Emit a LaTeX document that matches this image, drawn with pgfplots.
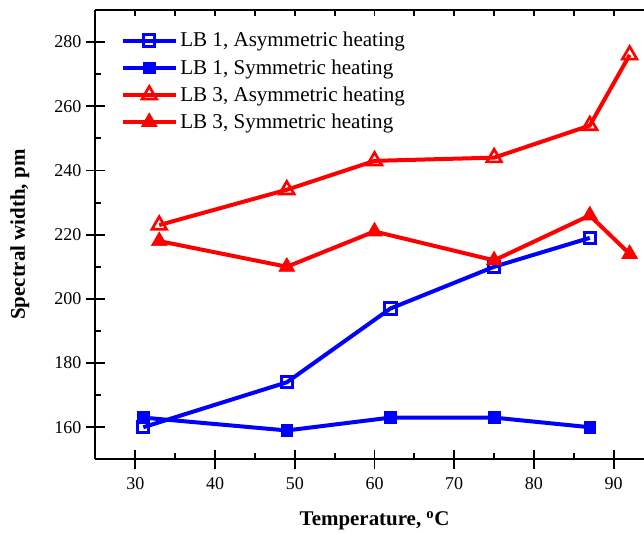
\documentclass[border=0pt]{standalone}
\usepackage{fontspec}
\setmainfont{Liberation Serif}
\usepackage{pgfplots}
\pgfplotsset{compat=1.18}
\begin{document}
\begin{tikzpicture}
\path[use as bounding box] (-71.6pt,-55.3pt) rectangle (411.4pt,344.5pt);
% overlay axis: frame top line and inward minor ticks
\begin{axis}[
  at={(0,0)}, anchor=south west,
  scale only axis, width=411.4pt, height=337pt,
  xmin=25, xmax=93.8, ymin=150, ymax=290,
  axis x line=box, axis y line=left,
  every non boxed x axis/.style={}, every non boxed y axis/.style={},
  axis line style={line width=1.5pt,-},
  tick align=inside, major tick length=4.5pt,
  tick style={line width=1.4pt, black},
  xtick={30,35,...,90}, ytick={160,170,...,280},
  xticklabels={}, yticklabels={},
]
\end{axis}
\begin{axis}[
  at={(0,0)}, anchor=south west,
  scale only axis, width=411.4pt, height=337pt,
  xmin=25, xmax=93.8, ymin=150, ymax=290,
  axis x line=bottom, axis y line=left,
  every non boxed x axis/.style={}, every non boxed y axis/.style={},
  axis line style={line width=1.5pt,-},
  tick align=center, major tick length=14pt,
  tick style={line width=1.4pt, black},
  xtick={30,40,...,90}, ytick={160,180,...,280},
  minor tick num=0,
  /pgf/number format/assume math mode=true,
  xticklabel={\pgfmathprintnumber[assume math mode=true]{\tick}},
  yticklabel={\pgfmathprintnumber[assume math mode=true]{\tick}},
  tick label style={font=\rmfamily\fontsize{13.5}{15}\selectfont},
  xticklabel style={yshift=-3pt},
  xlabel={\textbf{Temperature, \textsuperscript{o}C}},
  ylabel={\textbf{Spectral width, pm}},
  every axis x label/.style={at={(axis description cs:0.509,-0.136)}, anchor=center, font=\fontsize{15.7}{18}\selectfont},
  every axis y label/.style={at={(axis description cs:-0.138,0.5)}, anchor=center, rotate=90, font=\fontsize{15.7}{18}\selectfont},
  legend style={draw=none, fill=none, at={(axis description cs:0.046,0.957)}, anchor=north west,
    font=\fontsize{15.8}{18}\selectfont, row sep=3.9pt, inner sep=0pt},
  legend cell align=left,
  legend image code/.code={\draw[mark repeat=2,mark phase=2] plot coordinates {(0pt,0pt) (19.75pt,0pt) (39.5pt,0pt)};},
]
\addplot[blue, line width=3pt, mark=square, mark size=4.2pt, mark options={line width=2.2pt, fill=white}] coordinates {
(31,160) (49,174) (62,197) (75,210) (87,219)};
\addlegendentry{LB 1, Asymmetric heating}
\addplot[blue, line width=3pt, mark=square*, mark size=4.4pt, mark options={line width=0.5pt}] coordinates {
(31,163) (49,159) (62,163) (75,163) (87,160)};
\addlegendentry{LB 1, Symmetric heating}
\addplot[red, line width=3pt, mark=triangle, mark size=6.3pt, mark options={line width=2pt, fill=white}] coordinates {
(33,223) (49,234) (60,243) (75,244) (87,254) (92,276)};
\addlegendentry{LB 3, Asymmetric heating}
\addplot[red, line width=3pt, mark=triangle*, mark size=6.8pt, mark options={line width=0.5pt}] coordinates {
(33,218) (49,210) (60,221) (75,212) (87,226) (92,214)};
\addlegendentry{LB 3, Symmetric heating}
\end{axis}
\end{tikzpicture}
\end{document}
